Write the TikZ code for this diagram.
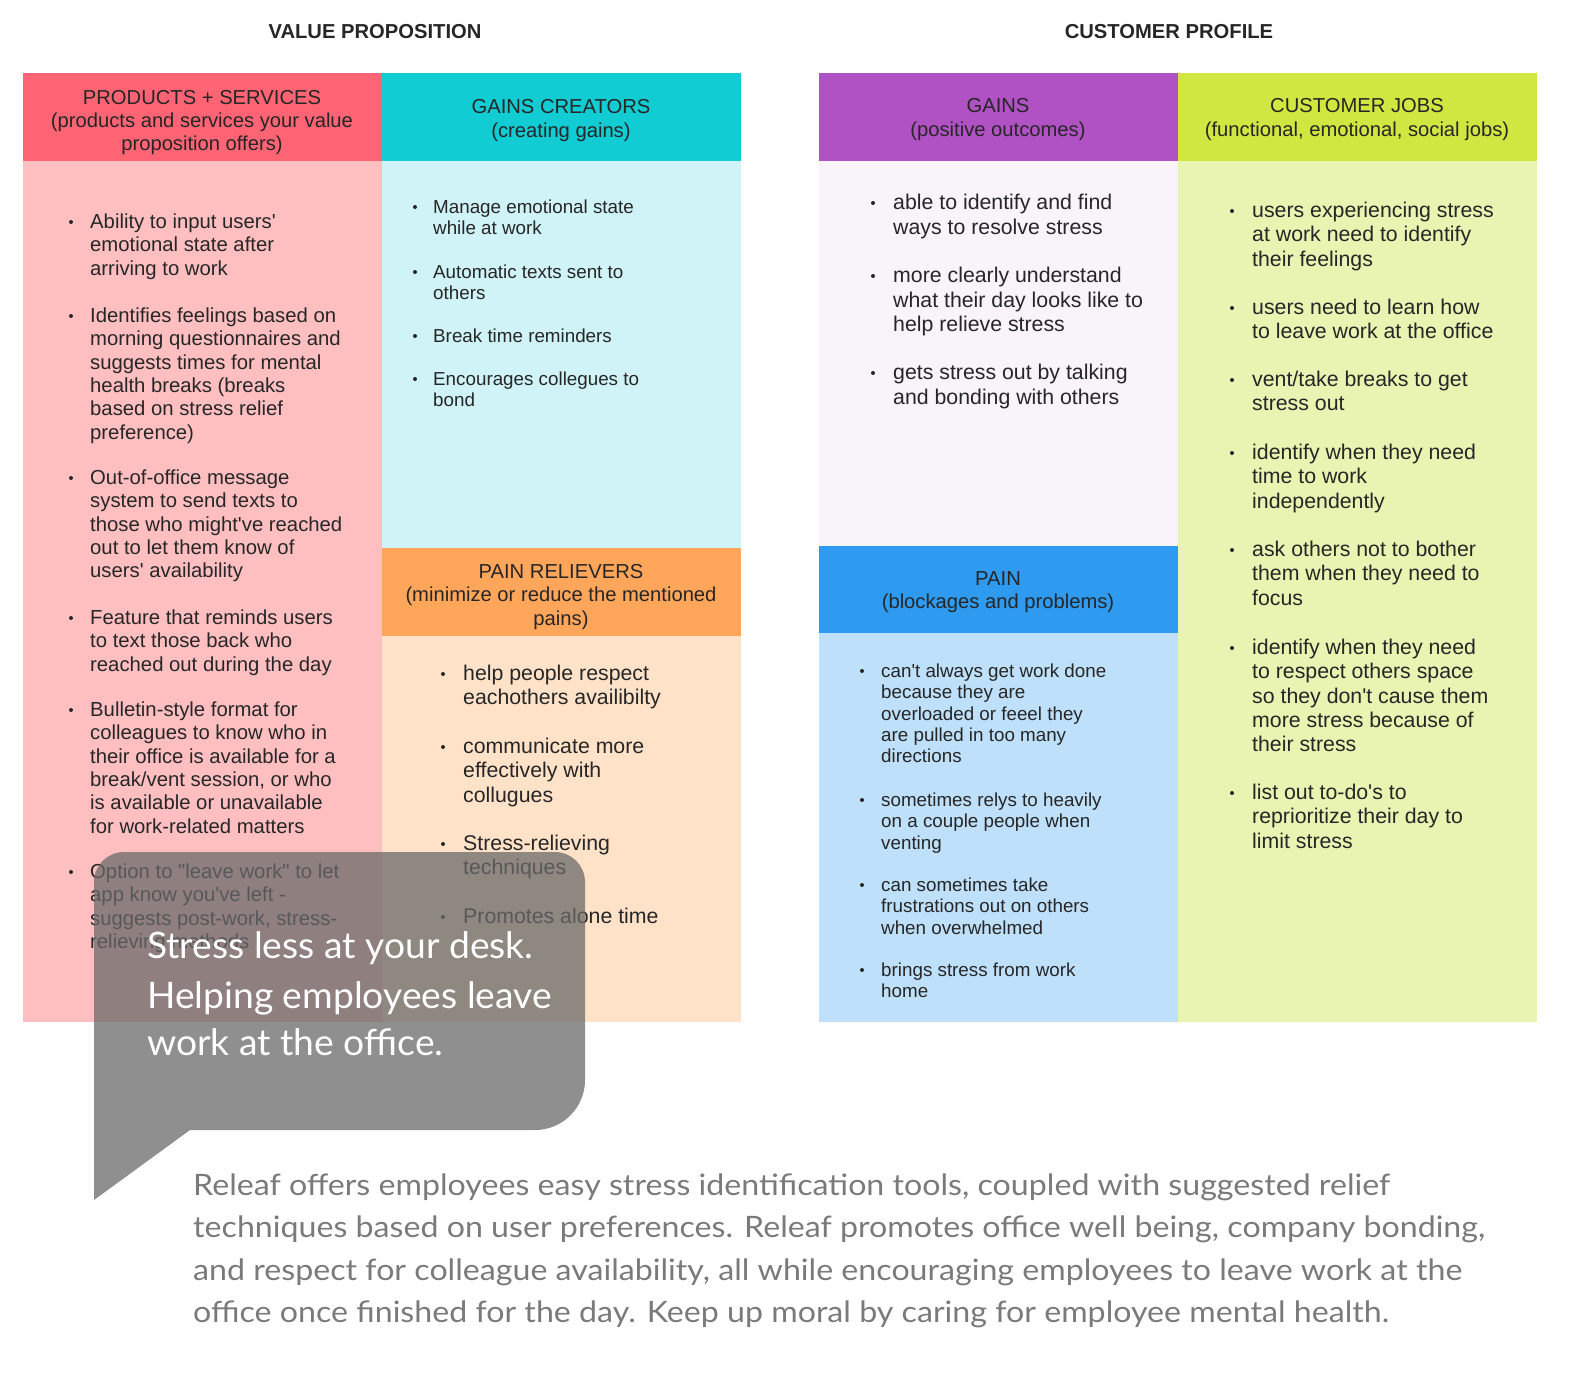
\documentclass[tikz,border=0pt]{standalone}
\usepackage{fontspec}
\setmainfont{Liberation Sans}
\newfontfamily\latofont{Lato}[FakeStretch=1.09]
\newfontfamily\latobubble{Lato}[FakeStretch=1.02]
\definecolor{ink}{HTML}{262626}
\definecolor{psHead}{HTML}{FF6474}
\definecolor{psBody}{HTML}{FFBFC1}
\definecolor{gcHead}{HTML}{12CCD4}
\definecolor{gcBody}{HTML}{CFF3F6}
\definecolor{prHead}{HTML}{FFA65A}
\definecolor{prBody}{HTML}{FFE2C8}
\definecolor{gnHead}{HTML}{B052C4}
\definecolor{gnBody}{HTML}{F8F4FA}
\definecolor{cjHead}{HTML}{CFE740}
\definecolor{cjBody}{HTML}{E9F4B2}
\definecolor{pnHead}{HTML}{2E9BF0}
\definecolor{pnBody}{HTML}{BEE0FA}
\definecolor{bubbleGrey}{HTML}{6A6A6A}
\definecolor{noteGrey}{HTML}{7A7A7A}

\newcommand\q{\textquotesingle}
\newcommand\qq{\textquotedbl}
% one bulleted entry: name, font, bullet x, text x, first line y, line step, lines
\newcommand\bentry[7]{%
  \fill[ink] (#3,#5+1) circle (2);
  \foreach \l [count=\i from 0] in {#7}
    \node[txt, font=#2, name=#1-\i] at (#4,#5+#6*\i) {\l};
}
\newcommand\bigtext{\fontsize{21.3}{24}\selectfont}
\newcommand\midtext{\fontsize{20.3}{23}\selectfont}
\newcommand\smalltext{\fontsize{18.8}{21}\selectfont}

\begin{document}
\begin{tikzpicture}[x=1pt,y=-1pt,
  txt/.style={anchor=mid west, inner sep=0, text=ink, yshift=-5pt},
  title/.style={anchor=mid, inner sep=0, yshift=-5pt, text=ink, font=\bfseries\fontsize{20.2}{23}\selectfont},
  hdr/.style={anchor=mid, inner sep=0, yshift=-5pt, text=ink, font=\fontsize{20.2}{23}\selectfont},
  bub/.style={anchor=mid west, inner sep=0, yshift=-10pt, text=white, font=\latobubble\fontsize{36.5}{48}\selectfont}]
\useasboundingbox (0,0) rectangle (1574,1376);

% section titles
\node[title] (vptitle) at (375,31) {VALUE PROPOSITION};
\node[title] (cptitle) at (1169,31) {CUSTOMER PROFILE};

% value proposition cells
\fill[psHead] (23,73) rectangle (382,161);
\fill[psBody] (23,161) rectangle (382,1022);
\fill[gcHead] (382,73) rectangle (741,161);
\fill[gcBody] (382,161) rectangle (741,548);
\fill[prHead] (382,548) rectangle (741,636);
\fill[prBody] (382,636) rectangle (741,1022);

% customer profile cells
\fill[gnHead] (819,73) rectangle (1178,161);
\fill[gnBody] (819,161) rectangle (1178,546);
\fill[pnHead] (819,546) rectangle (1178,633);
\fill[pnBody] (819,633) rectangle (1178,1022);
\fill[cjHead] (1178,73) rectangle (1537,161);
\fill[cjBody] (1178,161) rectangle (1537,1022);

% header captions
\node[hdr] (psh1) at (202,97) {PRODUCTS + SERVICES};
\node[hdr] (psh2) at (202,120) {(products and services your value};
\node[hdr] (psh3) at (202,143) {proposition offers)};
\node[hdr] (gch1) at (561,106) {GAINS CREATORS};
\node[hdr] (gch2) at (561,130) {(creating gains)};
\node[hdr] (prh1) at (561,571) {PAIN RELIEVERS};
\node[hdr] (prh2) at (561,594) {(minimize or reduce the mentioned};
\node[hdr] (prh3) at (561,618) {pains)};
\node[hdr] (gnh1) at (998,105) {GAINS};
\node[hdr] (gnh2) at (998,129) {(positive outcomes)};
\node[hdr] (cjh1) at (1357,105) {CUSTOMER JOBS};
\node[hdr] (cjh2) at (1357,129) {(functional, emotional, social jobs)};
\node[hdr] (pnh1) at (998,578) {PAIN};
\node[hdr] (pnh2) at (998,601) {(blockages and problems)};

% products + services
\bentry{ps1}{\midtext}{71}{90}{221}{23.3}{Ability to input users\q, emotional state after, arriving to work}
\bentry{ps2}{\midtext}{71}{90}{315}{23.3}{Identifies feelings based on, morning questionnaires and, suggests times for mental, health breaks (breaks, based on stress relief, preference)}
\bentry{ps3}{\midtext}{71}{90}{477}{23.3}{Out-of-office message, system to send texts to, those who might\q ve reached, out to let them know of, users\q{} availability}
\bentry{ps4}{\midtext}{71}{90}{617}{23.3}{Feature that reminds users, to text those back who, reached out during the day}
\bentry{ps5}{\midtext}{71}{90}{709}{23.3}{Bulletin-style format for, colleagues to know who in, their office is available for a, {break/vent session, or who}, is available or unavailable, for work-related matters}
\bentry{ps6}{\midtext}{71}{90}{871}{23.3}{Option to \qq leave work\qq{} to let, app know you\q ve left -, {suggests post-work, stress-}, relieving methods}

% gains creators
\bentry{gc1}{\smalltext}{415}{433}{206}{21}{Manage emotional state, while at work}
\bentry{gc2}{\smalltext}{415}{433}{271}{21}{Automatic texts sent to, others}
\bentry{gc3}{\smalltext}{415}{433}{335}{21}{Break time reminders}
\bentry{gc4}{\smalltext}{415}{433}{378}{21}{Encourages collegues to, bond}

% pain relievers
\bentry{pr1}{\bigtext}{443}{463}{673}{24.3}{help people respect, eachothers availibilty}
\bentry{pr2}{\bigtext}{443}{463}{746}{24.3}{communicate more, effectively with, collugues}
\bentry{pr3}{\bigtext}{443}{463}{843}{24.3}{Stress-relieving, techniques}
\bentry{pr4}{\bigtext}{443}{463}{916}{24.3}{Promotes alone time}

% gains
\bentry{gn1}{\bigtext}{873}{893}{202}{24.5}{able to identify and find, ways to resolve stress}
\bentry{gn2}{\bigtext}{873}{893}{275}{24.5}{more clearly understand, what their day looks like to, help relieve stress}
\bentry{gn3}{\bigtext}{873}{893}{372}{24.5}{gets stress out by talking, and bonding with others}

% pain
\bentry{pn1}{\smalltext}{862}{881}{670}{21.3}{can\q t always get work done, because they are, overloaded or feeel they, are pulled in too many, directions}
\bentry{pn2}{\smalltext}{862}{881}{799}{21.3}{sometimes relys to heavily, on a couple people when, venting}
\bentry{pn3}{\smalltext}{862}{881}{884}{21.3}{can sometimes take, frustrations out on others, when overwhelmed}
\bentry{pn4}{\smalltext}{862}{881}{969}{21.3}{brings stress from work, home}

% customer jobs
\bentry{cj1}{\bigtext}{1232}{1252}{210}{24.3}{users experiencing stress, at work need to identify, their feelings}
\bentry{cj2}{\bigtext}{1232}{1252}{307}{24.3}{users need to learn how, to leave work at the office}
\bentry{cj3}{\bigtext}{1232}{1252}{379}{24.3}{vent/take breaks to get, stress out}
\bentry{cj4}{\bigtext}{1232}{1252}{452}{24.3}{identify when they need, time to work, independently}
\bentry{cj5}{\bigtext}{1232}{1252}{549}{24.3}{ask others not to bother, them when they need to, focus}
\bentry{cj6}{\bigtext}{1232}{1252}{647}{24.3}{identify when they need, to respect others space, so they don\q t cause them, more stress because of, their stress}
\bentry{cj7}{\bigtext}{1232}{1252}{792}{24.3}{list out to-do\q s to, reprioritize their day to, limit stress}

% speech bubble
\fill[bubbleGrey, fill opacity=0.75]
  (94,1200) -- (94,882) arc (180:270:30) -- (555,852) arc (270:360:30)
  -- (585,1080) arc (0:90:50) -- (190,1130) -- cycle;
\node[bub] (bub1) at (147,946) {Stress less at your desk.};
\node[bub] (bub2) at (147,996) {Helping employees leave};
\node[bub] (bub3) at (147,1043) {work at the office.};

% closing statement
\foreach \l [count=\i from 0] in {{Releaf offers employees easy stress identification tools, coupled with suggested relief},
  {techniques based on user preferences. Releaf promotes office well being, company bonding,},
  {and respect for colleague availability, all while encouraging employees to leave work at the},
  {office once finished for the day. Keep up moral by caring for employee mental health.}}
  \node[anchor=mid west, inner sep=0, yshift=-7pt, text=noteGrey, font=\latofont\fontsize{29.5}{42}\selectfont, name=note-\i] at (193,1186+42.2*\i) {\l};
\end{tikzpicture}
\end{document}
